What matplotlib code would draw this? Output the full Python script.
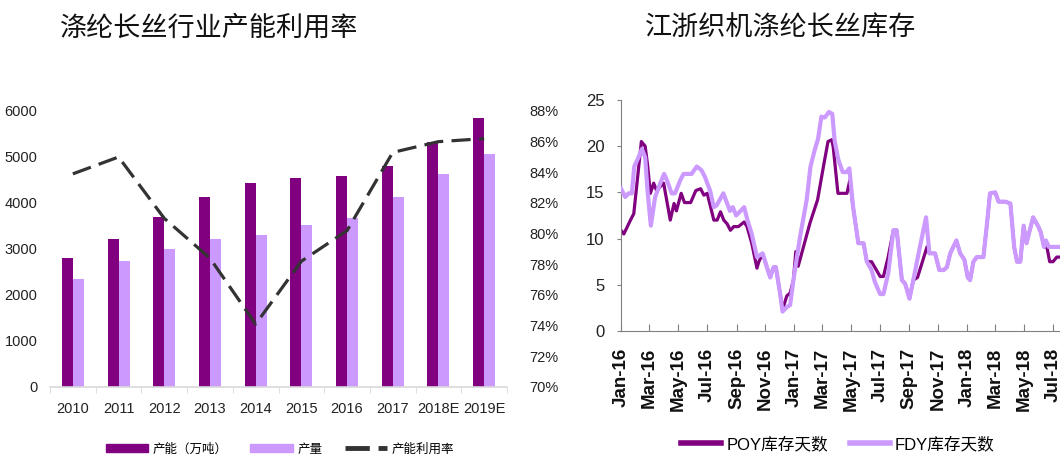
import numpy as np
import pandas as pd
import matplotlib
matplotlib.use("Agg")
import matplotlib.pyplot as plt
import matplotlib.dates as mdates
from matplotlib.patches import Patch
from matplotlib.lines import Line2D

plt.rcParams['font.family'] = ['Liberation Sans', 'Noto Sans CJK SC', 'DejaVu Sans']

# 左图数据
years = ['2010', '2011', '2012', '2013', '2014', '2015', '2016', '2017', '2018E', '2019E']
capacity = [2800, 3220, 3700, 4130, 4440, 4540, 4590, 4810, 5330, 5850]
output = [2350, 2740, 3000, 3220, 3300, 3520, 3670, 4130, 4620, 5070]
util_rate = [83.9, 85.0, 81.0, 78.4, 74.1, 78.2, 80.2, 85.3, 86.0, 86.2]

# 右图数据
fdy_dates = ['2016-01-01', '2016-01-10', '2016-01-17', '2016-01-24', '2016-01-29', '2016-02-07',
             '2016-02-14', '2016-02-21', '2016-02-26', '2016-03-04', '2016-03-13', '2016-03-24',
             '2016-04-01', '2016-04-07', '2016-04-17', '2016-04-24', '2016-05-05', '2016-05-12',
             '2016-05-22', '2016-05-29', '2016-06-09', '2016-06-19', '2016-06-26', '2016-07-07',
             '2016-07-15', '2016-07-21', '2016-08-04', '2016-08-18', '2016-08-24', '2016-08-31',
             '2016-09-17', '2016-09-24', '2016-10-03', '2016-10-14', '2016-10-26', '2016-11-04',
             '2016-11-11', '2016-11-18', '2016-11-23', '2016-12-02', '2016-12-07', '2016-12-16',
             '2016-12-23', '2016-12-30', '2017-01-13', '2017-01-27', '2017-02-04', '2017-02-13',
             '2017-02-20', '2017-02-27', '2017-03-06', '2017-03-15', '2017-03-22', '2017-03-27',
             '2017-04-04', '2017-04-13', '2017-04-21', '2017-04-27', '2017-05-05', '2017-05-16',
             '2017-05-27', '2017-06-03', '2017-06-13', '2017-06-20', '2017-07-01', '2017-07-08',
             '2017-07-18', '2017-07-29', '2017-08-05', '2017-08-16', '2017-08-23', '2017-09-01',
             '2017-09-09', '2017-09-23', '2017-10-06', '2017-10-13', '2017-10-25', '2017-11-03',
             '2017-11-12', '2017-11-19', '2017-11-26', '2017-12-09', '2017-12-17', '2017-12-26',
             '2018-01-02', '2018-01-07', '2018-01-14', '2018-01-21', '2018-02-04', '2018-02-11',
             '2018-02-18', '2018-03-01', '2018-03-08', '2018-03-22', '2018-04-02', '2018-04-10',
             '2018-04-16', '2018-04-23', '2018-04-30', '2018-05-06', '2018-05-20', '2018-05-31',
             '2018-06-05', '2018-06-12', '2018-06-16', '2018-06-22', '2018-08-15']
fdy_days = [15.4, 14.5, 14.9, 14.9, 17.8, 18.8,
            19.7, 18.8, 15.2, 11.4, 14.5, 16.0,
            17.0, 16.3, 14.9, 14.9, 16.3, 17.0,
            17.0, 17.0, 17.8, 17.4, 16.7, 15.2,
            13.4, 13.6, 14.9, 13.0, 13.4, 12.5,
            13.4, 12.0, 10.5, 8.0, 8.4, 6.9,
            5.8, 6.9, 6.9, 4.0, 2.1, 2.6,
            2.8, 5.5, 10.2, 14.2, 17.8, 19.6,
            20.8, 23.2, 23.1, 23.7, 23.5, 20.6,
            18.5, 17.2, 17.2, 17.6, 13.4, 9.5,
            9.5, 7.5, 6.6, 5.3, 4.0, 4.0,
            6.2, 10.9, 10.9, 5.5, 5.1, 3.5,
            5.5, 9.1, 12.3, 8.4, 8.4, 6.6,
            6.6, 6.9, 8.4, 9.8, 8.4, 7.7,
            5.8, 5.5, 7.5, 8.0, 8.0, 11.3,
            14.9, 15.0, 14.0, 14.0, 13.8, 9.1,
            7.5, 7.5, 11.4, 9.5, 12.3, 11.3,
            10.7, 9.1, 9.8, 9.1, 9.1]

poy_dates = ['2016-01-01', '2016-01-07', '2016-01-21', '2016-01-28', '2016-02-13', '2016-02-21',
             '2016-02-26', '2016-03-03', '2016-03-10', '2016-03-16', '2016-03-31', '2016-04-14',
             '2016-04-22', '2016-04-27', '2016-05-07', '2016-05-14', '2016-05-27', '2016-06-07',
             '2016-06-17', '2016-06-24', '2016-07-01', '2016-07-15', '2016-07-22', '2016-07-29',
             '2016-08-05', '2016-08-12', '2016-08-19', '2016-08-26', '2016-09-05', '2016-09-17',
             '2016-09-23', '2016-10-03', '2016-10-14', '2016-10-18', '2016-10-26', '2016-11-04',
             '2016-11-11', '2016-11-18', '2016-11-23', '2016-12-02', '2016-12-07', '2016-12-10',
             '2016-12-16', '2016-12-23', '2016-12-30', '2017-01-04', '2017-01-09', '2017-02-03',
             '2017-02-19', '2017-03-03', '2017-03-13', '2017-03-21', '2017-03-24', '2017-04-03',
             '2017-04-22', '2017-04-28', '2017-05-05', '2017-05-16', '2017-05-27', '2017-06-03',
             '2017-06-13', '2017-07-01', '2017-07-08', '2017-07-18', '2017-07-29', '2017-08-05',
             '2017-08-16', '2017-08-23', '2017-09-01', '2017-09-09', '2017-09-18', '2017-10-08',
             '2017-10-13', '2017-10-25', '2017-11-03', '2017-11-12', '2017-11-19', '2017-11-26',
             '2017-12-09', '2017-12-17', '2017-12-26', '2018-01-02', '2018-01-07', '2018-01-14',
             '2018-01-21', '2018-02-04', '2018-02-11', '2018-02-18', '2018-03-01', '2018-03-08',
             '2018-03-22', '2018-04-02', '2018-04-10', '2018-04-16', '2018-04-23', '2018-04-30',
             '2018-05-06', '2018-05-20', '2018-05-31', '2018-06-05', '2018-06-12', '2018-06-18',
             '2018-06-24', '2018-07-01', '2018-07-09', '2018-08-15']
poy_days = [10.9, 10.5, 12.0, 12.7, 20.5, 20.0,
            18.0, 14.9, 16.0, 15.2, 16.0, 12.0,
            13.8, 13.0, 14.9, 13.9, 13.9, 15.2,
            15.4, 14.7, 14.9, 12.0, 12.0, 12.9,
            12.0, 11.6, 10.9, 11.3, 11.3, 11.8,
            11.3, 9.5, 6.8, 7.5, 8.4, 6.9,
            5.8, 6.9, 6.9, 4.0, 2.3, 2.8,
            3.8, 4.1, 5.5, 8.6, 7.0, 11.7,
            14.2, 17.7, 20.5, 20.7, 19.9, 14.9,
            14.9, 16.3, 13.4, 9.5, 9.5, 7.5,
            7.5, 5.9, 5.9, 8.0, 10.9, 10.9,
            5.5, 5.1, 3.5, 5.5, 5.8, 9.1,
            8.4, 8.4, 6.6, 6.6, 6.9, 8.4,
            9.8, 8.4, 7.7, 5.8, 5.5, 7.5,
            8.0, 8.0, 11.3, 14.9, 15.0, 14.0,
            14.0, 13.8, 9.1, 7.5, 7.5, 11.4,
            9.5, 12.3, 11.3, 10.7, 9.1, 9.1,
            7.5, 7.5, 8.0, 8.0]

dark = '#800080'
light = '#CC99FF'
latin = ['Liberation Sans', 'DejaVu Sans']
cjk = ['Liberation Sans', 'Noto Sans CJK SC', 'DejaVu Sans']

W, H = 1060, 459
fig = plt.figure(figsize=(W / 100, H / 100), dpi=100)

# ---- 左图 ----
ax1 = fig.add_axes([50 / W, (H - 387) / H, 457 / W, 276 / H])
x = np.arange(len(years))
bw = 0.24
ax1.bar(x - bw / 2, capacity, bw, color=dark, zorder=2)
ax1.bar(x + bw / 2, output, bw, color=light, zorder=2)
ax1.set_xlim(-0.5, len(years) - 0.5)
ax1.set_ylim(0, 6000)
ax1.set_yticks(range(0, 6001, 1000))
ax1.set_xticks(x)
ax1.set_xticklabels(years)
ax1.set_xticks(np.arange(-0.5, len(years)), minor=True)
ax1.tick_params(axis='x', which='major', length=0, pad=11)
ax1.tick_params(axis='x', which='minor', length=4, color='#D9D9D9', direction='out')
ax1.tick_params(axis='y', length=0, pad=9)
for s in ['top', 'right', 'left']:
    ax1.spines[s].set_visible(False)
ax1.spines['bottom'].set_color('#D9D9D9')
ax1.spines['bottom'].set_linewidth(1.2)
for lab in ax1.get_xticklabels() + ax1.get_yticklabels():
    lab.set_family(latin)
    lab.set_fontsize(10.5)
    lab.set_color('#222222')

ax1r = ax1.twinx()
ax1r.plot(x, util_rate, color='#333333', lw=2.3, linestyle=(0, (6, 2.6)), zorder=3)
ax1r.set_ylim(70, 88)
ax1r.set_yticks(range(70, 89, 2))
ax1r.set_yticklabels([f'{v}%' for v in range(70, 89, 2)])
ax1r.tick_params(axis='y', length=0, pad=16)
for s in ['top', 'right', 'left', 'bottom']:
    ax1r.spines[s].set_visible(False)
for lab in ax1r.get_yticklabels():
    lab.set_family(latin)
    lab.set_fontsize(10.5)
    lab.set_color('#222222')

fig.text(60 / W, 1 - 28 / H, '涤纶长丝行业产能利用率', fontsize=19.5,
         family=['Noto Sans CJK SC'], va='center', ha='left', color='#111111')

h1 = [Patch(color=dark), Patch(color=light),
      Line2D([], [], color='#333333', lw=3.5, linestyle=(0, (5, 1.8)))]
fig.legend(h1, ['产能（万吨）', '产量', '产能利用率'], loc='center',
           bbox_to_anchor=(280 / W, 1 - 449 / H), ncol=3, frameon=False,
           prop={'family': ['Noto Sans CJK SC'], 'size': 9},
           handlelength=3.4, handleheight=0.6, handletextpad=0.35, columnspacing=1.8)

# ---- 右图 ----
start = pd.Timestamp('2016-01-01')
ax2 = fig.add_axes([621 / W, (H - 331) / H, (W - 621) / W, 231 / H])
ax2.plot(pd.to_datetime(poy_dates), poy_days, color=dark, lw=2.3, zorder=2)
ax2.plot(pd.to_datetime(fdy_dates), fdy_days, color=light, lw=3.0, zorder=3)
ax2.set_ylim(0, 25)
ax2.set_yticks(range(0, 26, 5))
ax2.set_xlim(start, start + pd.Timedelta(days=(W - 621) / 0.4737))
ax2.xaxis.set_major_locator(mdates.MonthLocator(bymonth=[1, 3, 5, 7, 9, 11]))
ax2.xaxis.set_major_formatter(mdates.DateFormatter('%b-%y'))
ax2.tick_params(axis='x', direction='in', length=5, color='#808080', pad=12, rotation=90)
ax2.tick_params(axis='y', direction='out', length=3, color='#808080', pad=9)
for s in ['top', 'right']:
    ax2.spines[s].set_visible(False)
for s in ['left', 'bottom']:
    ax2.spines[s].set_color('#808080')
for lab in ax2.get_xticklabels():
    lab.set_family(['Liberation Sans'])
    lab.set_fontsize(13.5)
    lab.set_fontweight('bold')
    lab.set_color('#111111')
for lab in ax2.get_yticklabels():
    lab.set_family(latin)
    lab.set_fontsize(12)
    lab.set_color('#222222')

fig.text(645 / W, 1 - 28 / H, '江浙织机涤纶长丝库存', fontsize=19.5,
         family=['Noto Sans CJK SC'], va='center', ha='left', color='#111111')

h2 = [Line2D([], [], color=dark, lw=4), Line2D([], [], color=light, lw=4)]
fig.legend(h2, ['POY库存天数', 'FDY库存天数'], loc='center',
           bbox_to_anchor=(838 / W, 1 - 444 / H), ncol=2, frameon=False,
           prop={'family': cjk, 'size': 12},
           handlelength=2.4, handletextpad=0.3, columnspacing=1.3)

fig.savefig('out.png', dpi=100)
